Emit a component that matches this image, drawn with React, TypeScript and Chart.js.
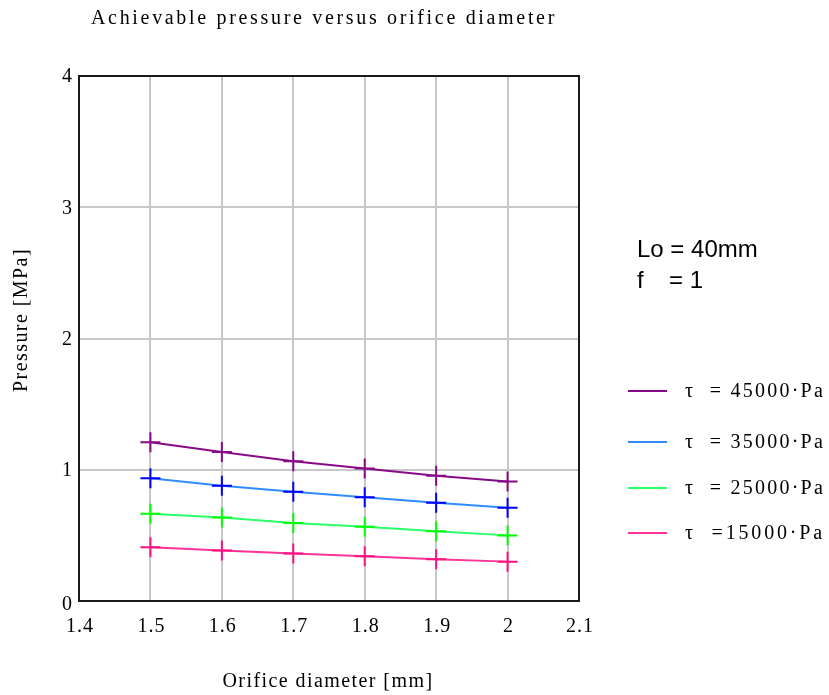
import React, { useEffect, useRef } from "react";
import { Chart, registerables } from "chart.js";

Chart.register(...registerables);

const diameters = [1.5, 1.6, 1.7, 1.8, 1.9, 2.0];
const p45 = [1.21, 1.135, 1.065, 1.01, 0.955, 0.91];
const p35 = [0.935, 0.878, 0.832, 0.79, 0.748, 0.71];
const p25 = [0.665, 0.636, 0.594, 0.565, 0.532, 0.5];
const p15 = [0.41, 0.384, 0.362, 0.341, 0.318, 0.3];

const seriesLabels = ["τ  = 45000·Pa", "τ  = 35000·Pa", "τ  = 25000·Pa", "τ  =15000·Pa"];
const lineColors = ["#880a88", "#2e8cff", "#2aff6a", "#ff3399"];
const markerColors = ["#880a88", "#0000ff", "#00ff00", "#ff1080"];

const xTickValues = [1.4, 1.5, 1.6, 1.7, 1.8, 1.9, 2.0, 2.1];
const xTickLabels = ["1.4", "1.5", "1.6", "1.7", "1.8", "1.9", "2", "2.1"];
const yTickValues = [0, 1, 2, 3, 4];
const yTickLabels = ["0", "1", "2", "3", "4"];

const titleText = "Achievable pressure versus orifice diameter";
const xTitle = "Orifice diameter [mm]";
const yTitle = "Pressure [MPa]";
const noteLine1 = "Lo = 40mm";
const noteLine2a = "f";
const noteLine2b = "= 1";

const SERIF = '"Liberation Serif", "Times New Roman", serif';
const SANS = '"Liberation Sans", Arial, sans-serif';

function fitText(ctx: CanvasRenderingContext2D, text: string, font: string, target: number) {
  ctx.font = font;
  (ctx as any).letterSpacing = "0px";
  const w = ctx.measureText(text).width;
  const ls = (target - w) / text.length;
  (ctx as any).letterSpacing = ls + "px";
}

const decorPlugin = {
  id: "decor",
  beforeDatasetsDraw(chart: any) {
    const { ctx, chartArea } = chart;
    ctx.save();
    ctx.strokeStyle = "#1a1a1a";
    ctx.lineWidth = 2;
    ctx.strokeRect(chartArea.left, chartArea.top, chartArea.right - chartArea.left, chartArea.bottom - chartArea.top);
    ctx.restore();
  },
  afterDraw(chart: any) {
    const { ctx } = chart;
    const xs = chart.scales.x;
    const ys = chart.scales.y;
    ctx.save();
    ctx.fillStyle = "#000";
    ctx.textBaseline = "middle";

    // title
    ctx.textAlign = "center";
    fitText(ctx, titleText, `20px ${SERIF}`, 466);
    ctx.fillText(titleText, 324, 19);

    // x title
    fitText(ctx, xTitle, `20px ${SERIF}`, 211);
    ctx.fillText(xTitle, 328, 682);

    // y title
    ctx.save();
    ctx.translate(22, 320);
    ctx.rotate(-Math.PI / 2);
    fitText(ctx, yTitle, `20px ${SERIF}`, 144);
    ctx.fillText(yTitle, 0, 0);
    ctx.restore();

    // tick labels
    ctx.font = `20px ${SERIF}`;
    (ctx as any).letterSpacing = "1px";
    ctx.textAlign = "center";
    xTickValues.forEach((v, i) => {
      ctx.fillText(xTickLabels[i], xs.getPixelForValue(v) + 1, 627);
    });
    ctx.textAlign = "right";
    yTickValues.forEach((v, i) => {
      const off = v === 0 ? 4 : 1;
      ctx.fillText(yTickLabels[i], 73, ys.getPixelForValue(v) + off);
    });

    // notes
    ctx.textAlign = "left";
    ctx.font = `24px ${SANS}`;
    (ctx as any).letterSpacing = "0px";
    ctx.fillText(noteLine1, 637, 250);
    ctx.fillText(noteLine2a, 637, 281);
    ctx.fillText(noteLine2b, 669, 281);

    // legend
    const legendY = [391, 442, 488, 533];
    chart.data.datasets.forEach((ds: any, i: number) => {
      const y = legendY[i];
      ctx.strokeStyle = ds.borderColor;
      ctx.lineWidth = 2;
      ctx.beginPath();
      ctx.moveTo(628, y);
      ctx.lineTo(667, y);
      ctx.stroke();
      fitText(ctx, ds.label, `20px ${SERIF}`, 140);
      ctx.fillStyle = "#000";
      ctx.textAlign = "left";
      ctx.fillText(ds.label, 685, y + 1);
    });
    ctx.restore();
  },
};

export default function App() {
  const ref = useRef<HTMLCanvasElement | null>(null);
  useEffect(() => {
    if (!ref.current) return;
    const series = [p45, p35, p25, p15];
    const chart = new Chart(ref.current, {
      type: "line",
      data: {
        datasets: series.map((s, i) => ({
          label: seriesLabels[i],
          data: diameters.map((d, j) => ({ x: d, y: s[j] })),
          borderColor: lineColors[i],
          backgroundColor: lineColors[i],
          borderWidth: 2,
          pointStyle: "cross",
          pointRadius: 10,
          pointBorderWidth: 2,
          pointBorderColor: markerColors[i],
          pointBackgroundColor: markerColors[i],
          tension: 0,
          fill: false,
        })),
      },
      options: {
        responsive: false,
        animation: false,
        devicePixelRatio: 1,
        layout: { padding: { left: 0, top: 76, right: 250, bottom: 0 } },
        plugins: { legend: { display: false }, title: { display: false }, tooltip: { enabled: false } },
        scales: {
          x: {
            type: "linear",
            min: 1.4,
            max: 2.1,
            ticks: { stepSize: 0.1, display: false },
            grid: { color: "#c8c8c8", lineWidth: 2, drawTicks: false },
            border: { display: false },
            afterFit: (s: any) => {
              s.height = 94;
            },
          },
          y: {
            min: 0,
            max: 4,
            ticks: { stepSize: 1, display: false },
            grid: { color: "#c8c8c8", lineWidth: 2, drawTicks: false },
            border: { display: false },
            afterFit: (s: any) => {
              s.width = 79;
            },
          },
        },
      },
      plugins: [decorPlugin],
    } as any);
    return () => chart.destroy();
  }, []);
  return (
    <div style={{ position: "absolute", left: 0, top: 0, width: 829, height: 695, background: "#fff" }}>
      <canvas ref={ref} width={829} height={695} style={{ display: "block" }} />
    </div>
  );
}
